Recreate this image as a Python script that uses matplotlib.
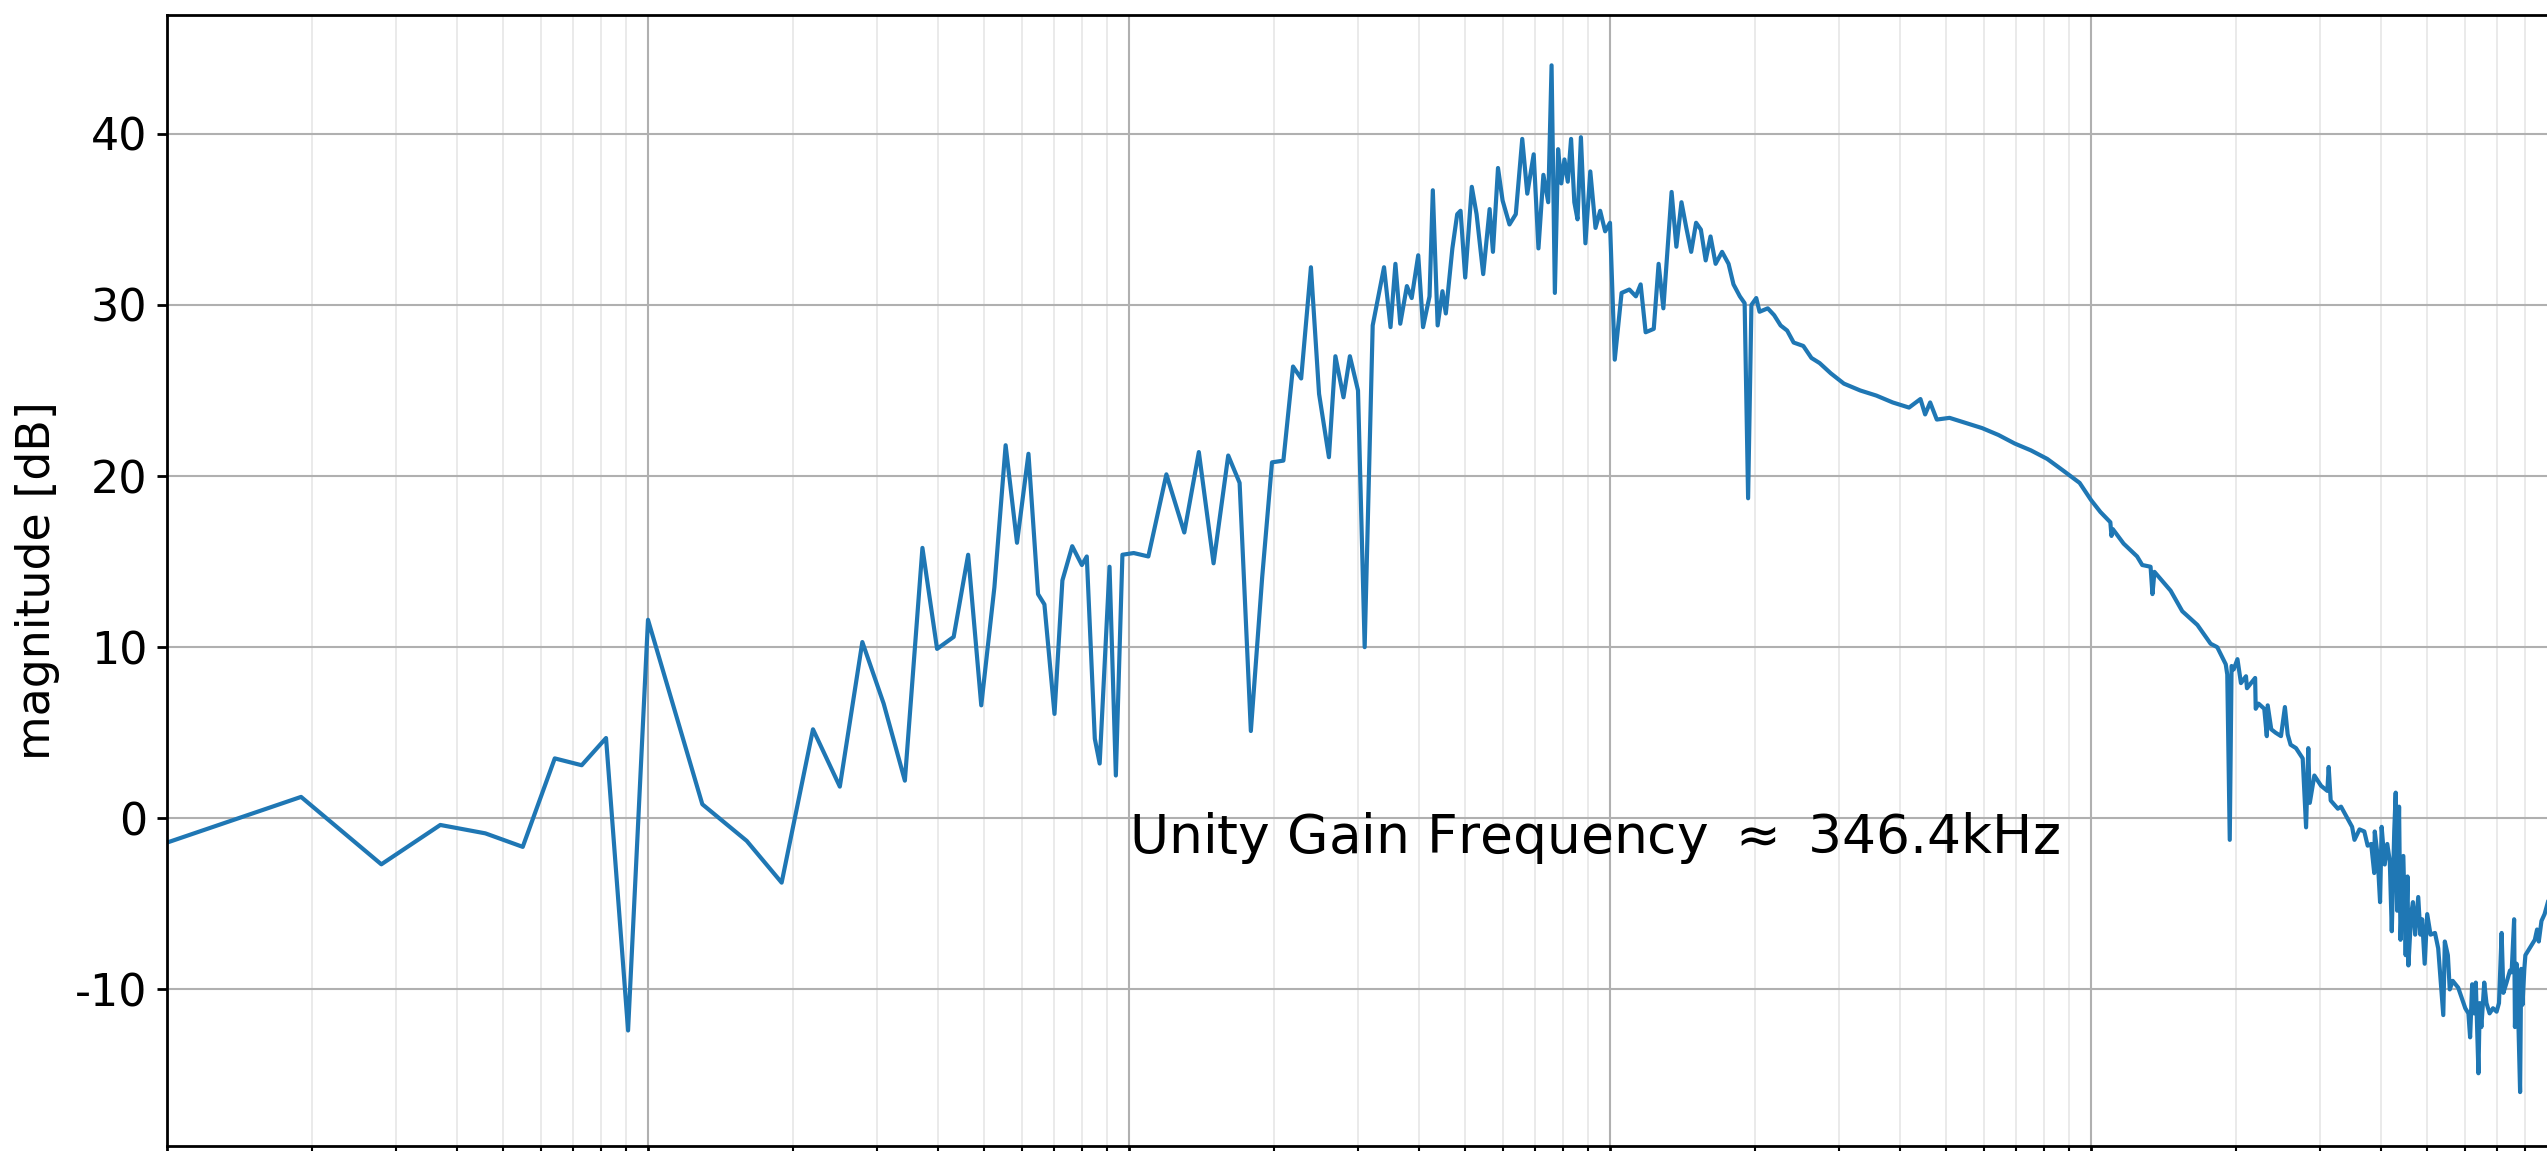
import matplotlib
matplotlib.use("Agg")
import matplotlib.pyplot as plt
from matplotlib.ticker import LogLocator, NullFormatter

plt.rcParams['font.family'] = ['DejaVu Sans']
plt.rcParams['axes.unicode_minus'] = False

# frequency [Hz]
freq_hz = [
    10, 19.0, 27.9, 37.0, 45.9, 54.9, 64.0, 72.8, 81.8, 90.9,
    100, 129.7, 160.4, 189.6, 220.3, 250.5, 279, 309, 342, 372,
    399, 432, 463, 493, 525, 554, 585, 618, 647, 667,
    700, 727, 762, 798, 817, 849, 869, 911, 939, 969,
    1023, 1097, 1196, 1303, 1397, 1499, 1608, 1698, 1792, 1892,
    1983, 2094, 2193, 2280, 2389, 2484, 2604, 2686, 2792, 2879,
    2993, 3090, 3211, 3390, 3497, 3580, 3664, 3782, 3870, 3993,
    4086, 4215, 4282, 4382, 4484, 4557, 4702, 4812, 4890, 5000,
    5160, 5280, 5450, 5620, 5710, 5850, 5980, 6180, 6370, 6570,
    6730, 6940, 7100, 7270, 7440, 7560, 7680, 7800, 7920, 8040,
    8170, 8300, 8430, 8560, 8700, 8890, 9100, 9330, 9540, 9770,
    10000, 10230, 10570, 10970, 11320, 11580, 11860, 12330, 12620, 12910,
    13430, 13740, 14080, 14410, 14750, 15100, 15450, 15810, 16180, 16580,
    17100, 17640, 18060, 18620, 19050, 19370, 19680, 20140, 20460, 21280,
    21940, 22630, 23350, 24090, 25230, 26230, 27280, 28780, 30640, 33130,
    35800, 38700, 41850, 44200, 45200, 46300, 47800, 50800, 54900, 59400,
    64200, 69400, 75000, 81100, 87700, 94700, 100000,
    104600, 109700, 110300, 111000, 116900, 124700, 127800, 133000, 134200, 135500,
    146400, 154800, 166400, 177300, 183000, 190600, 192000, 194300, 196000, 198000,
    201600, 205000, 210000, 211000, 219400, 220000, 223000, 229200, 232000, 233000,
    237000, 242000, 248300, 253000, 256400, 260000, 266800, 275500, 280000, 283000,
    285000, 291300, 300800, 310000, 312000, 315000, 326000, 331000, 342000, 349000,
    353000, 361600, 370000, 376000, 382400, 388000, 389000, 394000, 399000, 402000,
    408000, 413000, 418000, 422000, 427000, 430000, 433000, 437000, 440000, 446000,
    451000, 455000, 457000, 463000, 467000, 472000, 479000, 484000, 488000, 494000,
    500000, 508000, 519000, 527000, 540000, 544000, 552000, 557000, 565000, 580000,
    590000, 600000, 609000, 614000, 620000, 626000, 631000, 639000, 643000, 648000,
    657000, 664000, 674000, 685000, 697000, 705000, 714000, 720000, 731000, 743000,
    749000, 758000, 761000, 767000, 773000, 780000, 784000, 789000, 796000, 800000,
    812000, 824000, 837000, 846000, 853000, 864000, 877000, 891000,
]

# magnitude [dB]
magnitude_db = [
    -1.42, 1.25, -2.69, -0.39, -0.88, -1.67, 3.5, 3.1, 4.69, -12.4,
    11.6, 0.82, -1.32, -3.76, 5.2, 1.85, 10.3, 6.7, 2.2, 15.8,
    9.9, 10.6, 15.4, 6.6, 13.5, 21.8, 16.1, 21.3, 13.1, 12.5,
    6.1, 13.9, 15.9, 14.8, 15.3, 4.65, 3.2, 14.7, 2.5, 15.4,
    15.5, 15.3, 20.1, 16.7, 21.4, 14.9, 21.2, 19.6, 5.1, 14.1,
    20.8, 20.9, 26.4, 25.7, 32.2, 24.8, 21.1, 27.0, 24.6, 27.0,
    25.0, 10.0, 28.8, 32.2, 28.7, 32.4, 28.9, 31.1, 30.4, 32.9,
    28.7, 30.5, 36.7, 28.8, 30.8, 29.5, 33.3, 35.3, 35.5, 31.6,
    36.9, 35.3, 31.8, 35.6, 33.1, 38.0, 36.1, 34.7, 35.3, 39.7,
    36.5, 38.8, 33.3, 37.6, 36.0, 44.0, 30.7, 39.1, 37.1, 38.5,
    37.2, 39.7, 36.0, 35.0, 39.8, 33.6, 37.8, 34.5, 35.5, 34.3,
    34.8, 26.8, 30.7, 30.9, 30.5, 31.2, 28.4, 28.6, 32.4, 29.8,
    36.6, 33.4, 36.0, 34.5, 33.1, 34.8, 34.4, 32.6, 34.0, 32.4,
    33.1, 32.4, 31.2, 30.5, 30.1, 18.7, 30.0, 30.4, 29.6, 29.8,
    29.4, 28.8, 28.5, 27.8, 27.6, 26.9, 26.6, 26.0, 25.4, 25.0,
    24.7, 24.3, 24.0, 24.5, 23.6, 24.3, 23.3, 23.4, 23.1, 22.8,
    22.4, 21.9, 21.5, 21.0, 20.3, 19.6, 18.6,
    17.9, 17.3, 16.5, 16.9, 16.05, 15.3, 14.8, 14.7, 13.1, 14.4,
    13.3, 12.1, 11.3, 10.2, 10.0, 9.0, 8.4, -1.26, 8.9, 8.7,
    9.3, 7.9, 8.3, 7.6, 8.2, 6.4, 6.7, 6.4, 4.8, 6.6,
    5.2, 5.0, 4.8, 6.5, 4.9, 4.3, 4.1, 3.5, -0.53, 4.1,
    0.9, 2.5, 1.9, 1.6, 3.0, 1.04, 0.56, 0.68, -0.05, -0.5,
    -1.26, -0.65, -0.77, -1.6, -1.5, -3.2, -0.77, -2.1, -4.9, -0.5,
    -2.7, -1.5, -2.5, -6.6, -0.77, 1.5, -5.4, 0.68, -7.1, -2.2,
    -8.0, -3.4, -8.6, -5.6, -4.9, -6.8, -4.6, -6.8, -5.9, -8.5,
    -5.6, -6.8, -6.7, -7.6, -11.5, -7.2, -8.0, -10.0, -9.5, -9.9,
    -10.5, -11.1, -11.4, -12.8, -9.7, -11.4, -9.6, -14.9, -10.8, -12.2,
    -9.6, -10.8, -11.4, -11.1, -11.3, -10.8, -6.7, -10.2, -9.6, -8.9,
    -9.0, -5.9, -12.2, -8.5, -11.5, -16.0, -8.8, -10.9, -8.8, -8.0,
    -7.7, -7.4, -7.1, -6.5, -7.2, -6.0, -5.6, -4.9,
]

y_ticks = [-10, 0, 10, 20, 30, 40]
y_label = "magnitude [dB]"
annotation = "Unity Gain Frequency $\\approx$ 346.4kHz"

W, H = 2547, 1151
fig = plt.figure(figsize=(W / 100, H / 100), dpi=100)
left_px, right_px, top_px, bottom_px = 167, 2572, 14.5, 1146
ax = fig.add_axes([left_px / W, (H - bottom_px) / H,
                   (right_px - left_px) / W, (bottom_px - top_px) / H])

ax.plot(freq_hz, magnitude_db, color='#1f77b4', linewidth=3.0)
ax.set_xscale('log')
ax.set_xlim(10, 1e6)
ax.set_ylim(-19.15, 46.97)
ax.set_yticks(y_ticks)
ax.set_yticklabels([str(v) for v in y_ticks])

ax.xaxis.set_major_locator(LogLocator(base=10))
ax.xaxis.set_minor_locator(LogLocator(base=10, subs=range(2, 10)))
ax.xaxis.set_minor_formatter(NullFormatter())

ax.grid(True, which='major', color='#b0b0b0', linewidth=1.5)
ax.grid(True, which='minor', axis='x', color='#e6e6e6', linewidth=1.2)
ax.set_axisbelow(True)

for sp in ax.spines.values():
    sp.set_linewidth(2.0)

ax.tick_params(axis='y', which='major', labelsize=32, length=7, width=2.0, pad=7)
ax.tick_params(axis='x', which='major', length=7, width=2.0, labelbottom=False)
ax.tick_params(axis='x', which='minor', length=4, width=1.5, labelbottom=False)

ax.set_ylabel(y_label, fontsize=33)
ax.yaxis.set_label_coords(-0.0445, 0.5)

ax.text(1000, -2.0, annotation, fontsize=38.5, ha='left', va='baseline')

fig.savefig("out.png", dpi=100)
